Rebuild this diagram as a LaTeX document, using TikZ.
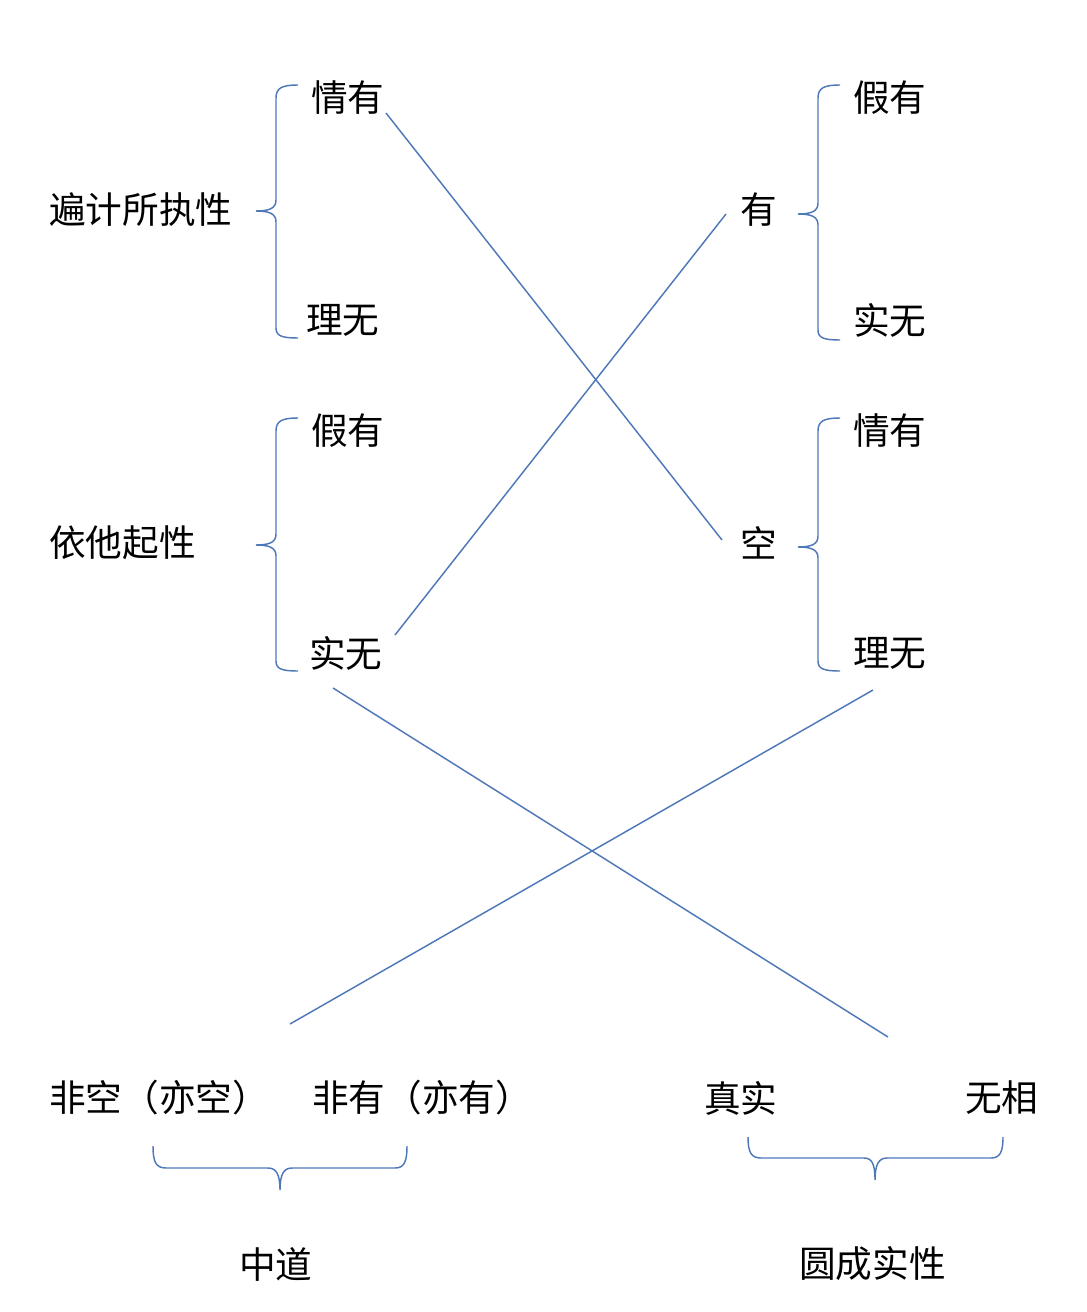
\documentclass[tikz,border=0pt]{standalone}
\usepackage{fontspec}
\newfontfamily\cjk{Noto Sans CJK SC}[Scale=1]
\definecolor{lineblue}{HTML}{4F78B8}
\begin{document}
\begin{tikzpicture}[x=0.75pt,y=-0.75pt,
  lbl/.style={font=\cjk\fontsize{27.5}{32}\selectfont, inner sep=0pt, anchor=west},
  brace/.style={draw=lineblue, line width=1.1pt},
  conn/.style={draw=lineblue, line width=1.1pt}]
\useasboundingbox (0,0) rectangle (1087,1312);
% left column
\node[lbl] (bj) at (49,210) {遍计所执性};
\node[lbl] (qy1) at (311,98) {情有};
\node[lbl] (lw1) at (306,320) {理无};
\node[lbl] (yt) at (49,543) {依他起性};
\node[lbl] (jy1) at (311,431) {假有};
\node[lbl] (sw1) at (309,653) {实无};
% right column
\node[lbl] (you) at (740,210) {有};
\node[lbl] (jy2) at (853,98) {假有};
\node[lbl] (sw2) at (853,320) {实无};
\node[lbl] (kong) at (740,543) {空};
\node[lbl] (qy2) at (853,431) {情有};
\node[lbl] (lw2) at (853,653) {理无};
% bottom
\node[lbl] (fk) at (49,1098) {非空（亦空）};
\node[lbl] (fy) at (312,1098) {非有（亦有）};
\node[lbl] (zs) at (704,1098) {真实};
\node[lbl] (wx) at (965,1098) {无相};
\node[lbl] (zd) at (239,1264) {中道};
\node[lbl] (yc) at (799,1264) {圆成实性};
% braces left
\draw[brace] (298,85) .. controls (282,85) and (276,88) .. (276,98) -- (276,200) .. controls (276,208) and (270,211) .. (256,211) .. controls (270,211) and (276,214) .. (276,222) -- (276,328) .. controls (276,336) and (282,338) .. (298,338);
\draw[brace] (298,418) .. controls (282,418) and (276,421) .. (276,431) -- (276,534) .. controls (276,542) and (270,545) .. (256,545) .. controls (270,545) and (276,548) .. (276,556) -- (276,661) .. controls (276,669) and (282,671) .. (298,671);
% braces right
\draw[brace] (840,85) .. controls (824,85) and (818,88) .. (818,98) -- (818,203) .. controls (818,211) and (812,214) .. (798,214) .. controls (812,214) and (818,217) .. (818,225) -- (818,330) .. controls (818,338) and (824,340) .. (840,340);
\draw[brace] (840,418) .. controls (824,418) and (818,421) .. (818,431) -- (818,536) .. controls (818,544) and (812,547) .. (798,547) .. controls (812,547) and (818,550) .. (818,558) -- (818,661) .. controls (818,669) and (824,671) .. (840,671);
% braces bottom
\draw[brace] (153,1146) .. controls (153,1162) and (156,1168) .. (166,1168) -- (268,1168) .. controls (276,1168) and (280,1174) .. (280,1190) .. controls (280,1174) and (284,1168) .. (292,1168) -- (395,1168) .. controls (404,1168) and (407,1162) .. (407,1146);
\draw[brace] (748,1137) .. controls (748,1152) and (751,1158) .. (761,1158) -- (864,1158) .. controls (872,1158) and (875,1164) .. (875,1180) .. controls (875,1164) and (879,1158) .. (887,1158) -- (991,1158) .. controls (1000,1158) and (1003,1152) .. (1003,1137);
% connectors
\coordinate (a1) at (386,113);
\coordinate (a2) at (722,540);
\coordinate (b1) at (726,214);
\coordinate (b2) at (395,635);
\coordinate (c1) at (333,688);
\coordinate (c2) at (888,1037);
\coordinate (d1) at (873,690);
\coordinate (d2) at (290,1024);
\draw[conn] (a1) -- (a2);
\draw[conn] (b1) -- (b2);
\draw[conn] (c1) -- (c2);
\draw[conn] (d1) -- (d2);
\end{tikzpicture}
\end{document}
